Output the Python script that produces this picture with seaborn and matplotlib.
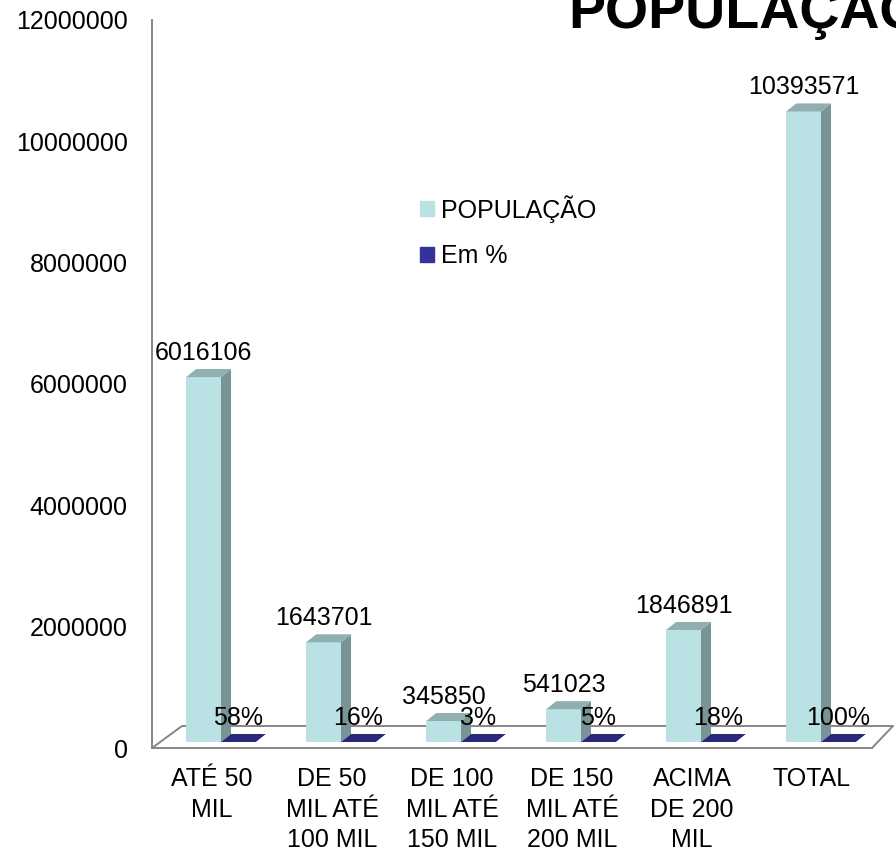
import numpy as np
import pandas as pd
import matplotlib
matplotlib.use("Agg")
import matplotlib.pyplot as plt
import seaborn as sns
from matplotlib.patches import Polygon, Patch
from matplotlib.transforms import ScaledTranslation

# --- Data ---
categories = ["ATÉ 50\nMIL", "DE 50\nMIL ATÉ\n100 MIL", "DE 100\nMIL ATÉ\n150 MIL",
              "DE 150\nMIL ATÉ\n200 MIL", "ACIMA\nDE 200\nMIL", "TOTAL"]
populacao = [6016106, 1643701, 345850, 541023, 1846891, 10393571]
percentual = [0.58, 0.16, 0.03, 0.05, 0.18, 1.00]
pct_labels = ["58%", "16%", "3%", "5%", "18%", "100%"]
series = ["POPULAÇÃO", "Em %"]
y_ticks = [0, 2000000, 4000000, 6000000, 8000000, 10000000, 12000000]

df = pd.DataFrame({
    "categoria": categories * 2,
    "serie": [series[0]] * len(categories) + [series[1]] * len(categories),
    "valor": populacao + percentual,
})

# --- Style ---
sns.set_style("white")
plt.rcParams["font.family"] = ["Liberation Sans", "DejaVu Sans"]
plt.rcParams["text.color"] = "black"
plt.rcParams["xtick.labelcolor"] = "black"
plt.rcParams["ytick.labelcolor"] = "black"

gray = "#868686"
pop_front = "#BAE1E3"
pop_side = "#7A9394"
pop_top = "#8FAFB1"
pct_top = "#27297C"
pct_legend = "#333399"

fig = plt.figure(figsize=(8.96, 8.52), dpi=100)
ax = fig.add_axes([152 / 896, 104 / 852, 720 / 896, 728 / 852])

sns.barplot(data=df, x="categoria", y="valor", hue="serie", hue_order=series,
            palette=[pop_front, pct_top], width=0.58, dodge=True, saturation=1,
            errorbar=None, linewidth=0, legend=False, ax=ax)
ax.set_xlim(-0.5, 5.5)
ax.set_ylim(0, 12000000)

# --- fake 3D: shift bars a little and add side / top faces ---
shift = np.array([9.0, 6.0])   # px
depth = np.array([10.0, 8.0])  # px
shift_tr = ScaledTranslation(shift[0] / 100, shift[1] / 100, fig.dpi_scale_trans)
to_data = ax.transData.inverted()


def px(x, y):
    return ax.transData.transform((x, y)) + shift


def face(points, color):
    pts = to_data.transform(np.array(points))
    ax.add_patch(Polygon(pts, closed=True, facecolor=color, edgecolor="none",
                         zorder=3, clip_on=False))


pop_bars, pct_bars = ax.containers[0], ax.containers[1]
for bar in pop_bars:
    bar.set_transform(ax.transData + shift_tr)
    bar.set_zorder(3)
    x0, w, h = bar.get_x(), bar.get_width(), bar.get_height()
    fr_b, fr_t, fl_t = px(x0 + w, 0), px(x0 + w, h), px(x0, h)
    face([fr_b, fr_b + depth, fr_t + depth, fr_t], pop_side)
    face([fl_t, fr_t, fr_t + depth, fl_t + depth], pop_top)

for bar in pct_bars:
    bar.set_transform(ax.transData + shift_tr)
    x0, w, h = bar.get_x(), bar.get_width(), bar.get_height()
    fl_t, fr_t = px(x0, h), px(x0 + w, h)
    face([fl_t, fr_t, fr_t + depth, fl_t + depth], pct_top)

# data labels
for bar, v in zip(pop_bars, populacao):
    ax.annotate(f"{v}", xy=(bar.get_x() + bar.get_width() / 2, bar.get_height()),
                xytext=(shift[0] * 0.72, (shift[1] + 17) * 0.72), textcoords="offset points",
                ha="center", va="baseline", fontsize=18, zorder=5)
for bar, lab in zip(pct_bars, pct_labels):
    ax.annotate(lab, xy=(bar.get_x() + bar.get_width() / 2, bar.get_height()),
                xytext=(shift[0] * 0.72, (shift[1] + 17) * 0.72), textcoords="offset points",
                ha="center", va="baseline", fontsize=18, zorder=5)

# floor outline
left_front = ax.transData.transform((-0.5, 0))
right_front = ax.transData.transform((5.5, 0))
floor = np.array([left_front, left_front + [30, 22], right_front + [21, 22], right_front])
floor = to_data.transform(floor)
ax.plot(floor[:, 0], floor[:, 1], color=gray, lw=1.4, clip_on=False, zorder=1)

# --- Axes ---
sns.despine(ax=ax)
for s in ["left", "bottom"]:
    ax.spines[s].set_color(gray)
    ax.spines[s].set_linewidth(1.4)

ax.set_xticks(range(len(categories)))
ax.set_xticklabels(categories, fontsize=18, linespacing=1.32)
ax.tick_params(axis="x", which="major", length=0, pad=14)
ax.set_xticks(np.arange(-0.5, len(categories), 1), minor=True)
ax.tick_params(axis="x", which="minor", length=8, width=1.4, color=gray, direction="out")

ax.set_yticks(y_ticks)
ax.set_yticklabels([str(v) for v in y_ticks], fontsize=18)
ax.tick_params(axis="y", length=6.5, width=1.4, color=gray, pad=11, direction="out")
ax.set_xlabel("")
ax.set_ylabel("")

# legend
fig.legend(handles=[Patch(color=pop_front), Patch(color=pct_legend)], labels=series,
           loc="upper left", bbox_to_anchor=(420 / 896, 1 - 195 / 852), frameon=False,
           fontsize=18, handlelength=0.55, handleheight=0.55, handletextpad=0.3,
           labelspacing=0.85, borderpad=0, borderaxespad=0)

fig.text(568 / 896, (852 - 28) / 852, "POPULAÇÃO", fontsize=40, fontweight="bold",
         ha="left", va="baseline")

fig.savefig("out.png", dpi=100)
